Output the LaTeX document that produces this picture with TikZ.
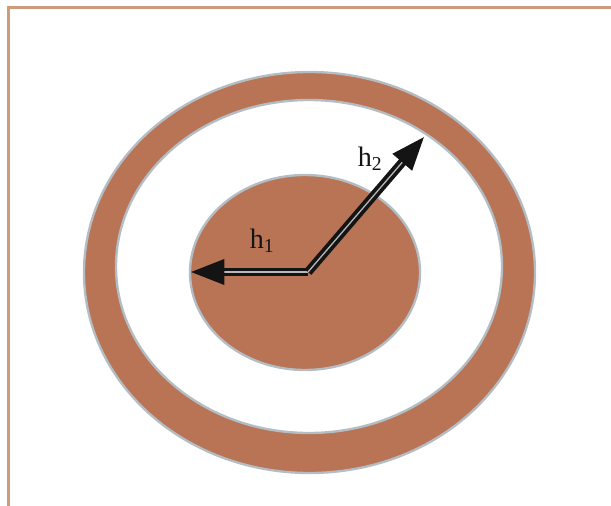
\documentclass[tikz,border=0pt]{standalone}
\usepackage{fontspec}
\setmainfont{Liberation Serif}
\usepackage{tikz}
\usetikzlibrary{arrows.meta, positioning}
\definecolor{mybrown}{RGB}{184,116,84}
\definecolor{myhalo}{RGB}{180,188,196}
\definecolor{myframe}{RGB}{206,156,122}
\definecolor{mydark}{RGB}{20,20,20}
\tikzset{
  disc/.style={fill=mybrown, draw=myhalo, line width=2pt},
  hole/.style={fill=white, draw=myhalo, line width=2pt},
  vec/.style={-{Triangle[length=1.0cm, width=0.75cm]}, line width=3.2pt,
    color=mydark, double=gray!55, double distance=1.1pt},
  hlabel/.style={font=\fontsize{24}{28}\selectfont, color=mydark, inner sep=0pt},
  frame/.style={color=myframe, line width=2.2pt}
}

\begin{document}
\begin{tikzpicture}[x=0.03cm, y=-0.03cm]
  \useasboundingbox (0,0) rectangle (611,506);
  % Frame (top and left edge only)
  \draw[frame] (8.5,507) -- (8.5,7.5) -- (611,7.5);

  % Outer ring
  \path[disc] (309.5,272.5) ellipse [x radius=225.5, y radius=200.5];
  \path[hole] (309,266.5) ellipse [x radius=193, y radius=166.5];

  % Inner disc
  \path[disc] (305,272.5) ellipse [x radius=115, y radius=97.5];

  % Radii
  \coordinate (o) at (308,272);
  \coordinate (t1) at (191,272);
  \coordinate (t2) at (424,137);
  \draw[vec] (o) -- (t1);
  \draw[vec] (o) -- (t2);

  % Labels
  \node[hlabel] (h1) at (262,241) {h\textsubscript{1}};
  \node[hlabel] (h2) at (370,159) {h\textsubscript{2}};
\end{tikzpicture}
\end{document}
